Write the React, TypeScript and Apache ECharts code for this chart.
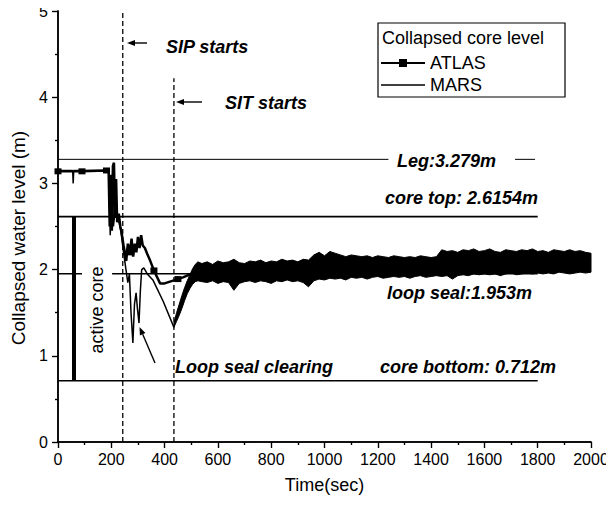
import React, { useEffect, useRef } from "react";
import * as echarts from "echarts";

const FONT = "'Liberation Sans', Arial, Helvetica, sans-serif";

// Axis ranges
const timeMin = 0;
const timeMax = 2000;
const timeStep = 200;
const levelMin = 0;
const levelMax = 5;
const levelStep = 1;

// ATLAS collapsed core level (s, m)
const atlasTime = [
  0, 90, 182, 190, 194, 198, 202, 206, 210, 214, 218, 222, 228, 234, 240, 246, 252, 256,
  262, 270, 276, 282, 288, 294, 300, 306, 312, 318, 326, 335, 345, 360, 383, 400, 420,
  450, 469, 507, 540, 630, 720, 810, 900, 990, 1080, 1170, 1260, 1350, 1440, 1530, 1620,
  1710, 1800, 1890, 1980, 2000,
];
const atlasLevel = [
  3.14, 3.14, 3.15, 3.14, 2.5, 3.1, 2.45, 3.2, 3.24, 2.6, 3.05, 2.55, 2.65, 2.5, 2.4, 2.28, 2.18, 2.1,
  2.3, 2.2, 2.36, 2.15, 2.3, 2.2, 2.38, 2.25, 2.4, 2.28, 2.25, 2.18, 2.11, 1.99, 1.84, 1.84, 1.86,
  1.89, 1.91, 1.96, 1.97, 1.96, 1.99, 2.0, 1.99, 2.04, 2.02, 2.03, 2.04, 2.03, 2.06, 2.08, 2.09,
  2.09, 2.1, 2.09, 2.1, 2.09,
];
// Points of the ATLAS curve that carry a square marker
const atlasMarkerTimes = [
  0, 90, 182, 270, 360, 450, 540, 630, 720, 810, 900, 990, 1080, 1170, 1260, 1350, 1440,
  1530, 1620, 1710, 1800, 1890, 1980,
];

// MARS collapsed core level, early transient (s, m)
const marsTime = [
  0, 55, 57, 59, 190, 196, 203, 208, 215, 225, 236, 246, 255, 262, 268, 274, 281, 287, 293,
  298, 304, 309, 314, 322, 335, 356, 395, 435,
];
const marsLevel = [
  3.15, 3.15, 3.0, 3.15, 3.15, 2.4, 3.05, 2.5, 2.7, 2.6, 2.45, 2.2, 2.0, 1.85, 1.95, 1.5, 1.15, 1.6, 1.73,
  1.55, 1.38, 1.75, 2.0, 2.02, 1.95, 1.88, 1.63, 1.33,
];

// MARS oscillating range after SIT injection: lower / upper envelope (s, m)
const marsBandTime = [
  435, 445, 455, 465, 475, 485, 495, 505, 515, 525, 540, 560, 580, 600, 620, 640, 660, 680, 700,
  720, 740, 760, 780, 800, 820, 840, 860, 880, 900, 920, 940, 960, 980, 1000, 1020, 1040, 1060,
  1080, 1100, 1120, 1140, 1160, 1180, 1200, 1220, 1240, 1260, 1280, 1300, 1320, 1340, 1360, 1380,
  1400, 1420, 1440, 1460, 1480, 1500, 1520, 1540, 1560, 1580, 1600, 1620, 1640, 1660, 1680, 1700,
  1720, 1740, 1760, 1780, 1800, 1820, 1840, 1860, 1880, 1900, 1920, 1940, 1960, 1980, 2000,
];
const marsBandLow = [
  1.33, 1.4, 1.47, 1.55, 1.64, 1.72, 1.78, 1.83, 1.86, 1.87, 1.86, 1.85, 1.87, 1.84, 1.86, 1.85, 1.76, 1.84, 1.86,
  1.87, 1.85, 1.87, 1.86, 1.84, 1.87, 1.86, 1.88, 1.86, 1.87, 1.85, 1.8, 1.87, 1.89, 1.88, 1.9, 1.89, 1.9,
  1.88, 1.91, 1.9, 1.91, 1.89, 1.91, 1.92, 1.9, 1.91, 1.92, 1.91, 1.92, 1.9, 1.92, 1.93, 1.91,
  1.92, 1.93, 1.92, 1.93, 1.89, 1.93, 1.94, 1.93, 1.95, 1.94, 1.95, 1.94, 1.95, 1.93, 1.95, 1.96,
  1.94, 1.95, 1.96, 1.95, 1.96, 1.95, 1.96, 1.95, 1.97, 1.96, 1.95, 1.96, 1.97, 1.96, 1.97,
];
const marsBandHigh = [
  1.38, 1.5, 1.6, 1.7, 1.79, 1.87, 1.94, 2.01, 2.06, 2.09, 2.07, 2.09, 2.06, 2.1, 2.08, 2.09, 2.12, 2.08, 2.07,
  2.1, 2.09, 2.11, 2.08, 2.1, 2.09, 2.12, 2.1, 2.11, 2.09, 2.12, 2.11, 2.17, 2.2, 2.16, 2.21, 2.19, 2.17,
  2.15, 2.17, 2.16, 2.15, 2.16, 2.14, 2.16, 2.15, 2.14, 2.16, 2.15, 2.14, 2.15, 2.14, 2.16, 2.15,
  2.14, 2.15, 2.23, 2.21, 2.22, 2.2, 2.23, 2.22, 2.24, 2.21, 2.22, 2.24, 2.21, 2.2, 2.23, 2.22,
  2.21, 2.23, 2.22, 2.24, 2.21, 2.22, 2.2, 2.23, 2.22, 2.21, 2.23, 2.21, 2.22, 2.2, 2.19,
];

// Reference elevations (m) and the time spans (s) over which each is drawn
const legLevel = 3.279;
const legSpans = [[0, 1240], [1715, 1790]];
const coreTopLevel = 2.6154;
const coreTopSpans = [[0, 1800]];
const loopSealLevel = 1.953;
const loopSealSpans = [[0, 90], [203, 1800]];
const coreBottomLevel = 0.712;
const coreBottomSpans = [[0, 1800]];

// Event times (s)
const sipTime = 243;
const sitTime = 435;
const sitLineTop = 4.22;
// Active core height bracket
const activeCoreTime = 60;

export default function App() {
  const ref = useRef<HTMLDivElement>(null);

  useEffect(() => {
    if (!ref.current) return;
    const chart = echarts.init(ref.current, null, { renderer: "svg" });

    const atlasData = atlasTime.map((t, i) => ({
      value: [t, atlasLevel[i]],
      symbol: atlasMarkerTimes.includes(t) ? "rect" : "none",
    }));
    const marsData = marsTime.map((t, i) => [t, marsLevel[i]]);
    const bandData = marsBandTime.map((t, i) => [t, marsBandLow[i], marsBandHigh[i]]);

    const hLines = (name: string, level: number, spans: number[][], width: number) =>
      spans.map((s, i) => ({
        name: `${name}-${i}`,
        type: "line",
        data: [
          [s[0], level],
          [s[1], level],
        ],
        symbol: "none",
        silent: true,
        lineStyle: { color: "#000", width },
      }));

    const vLine = (name: string, t: number, top: number, width: number, dashed: boolean) => ({
      name,
      type: "line",
      data: [
        [t, levelMin],
        [t, top],
      ],
      symbol: "none",
      silent: true,
      lineStyle: { color: "#000", width, type: dashed ? [5, 3] : "solid" },
    });

    const txt = (
      text: string,
      x: number,
      y: number,
      align: string = "left",
      italicBold = true,
      rotation = 0,
      size = 18
    ) => ({
      type: "text",
      x,
      y,
      rotation,
      z: 100,
      style: {
        text,
        fill: "#000",
        fontFamily: FONT,
        fontSize: size,
        fontWeight: italicBold ? "bold" : "normal",
        fontStyle: italicBold ? "italic" : "normal",
        align,
        verticalAlign: "middle",
      },
    });

    const axisCommon = {
      axisLine: { show: true, lineStyle: { color: "#000", width: 1.5 } },
      splitLine: { show: false },
    };
    const tickStyle = { color: "#000", width: 1.2 };

    chart.setOption({
      animation: false,
      backgroundColor: "#fff",
      textStyle: { fontFamily: FONT, color: "#000" },
      grid: { left: 58, right: 23, top: 11, bottom: 64 },
      legend: {
        data: [
          "ATLAS",
          { name: "MARS", icon: "path://M0,0H44V1.3H0Z", itemStyle: { color: "#000" } },
        ],
        orient: "vertical",
        left: 380,
        top: 54,
        itemWidth: 44,
        itemHeight: 10,
        itemGap: 4,
        padding: 0,
        selectedMode: false,
        textStyle: { fontSize: 18, color: "#000", fontFamily: FONT },
      },
      xAxis: [
        {
          type: "value",
          min: timeMin,
          max: timeMax,
          interval: timeStep,
          position: "bottom",
          ...axisCommon,
          axisTick: { show: true, inside: false, length: 6, lineStyle: tickStyle },
          minorTick: { show: true, splitNumber: 2, length: 3, lineStyle: tickStyle },
          axisLabel: {
            fontSize: 16,
            color: "#000",
            margin: 9,
            fontFamily: FONT,
            formatter: (v: number) => String(v),
          },
          name: "Time(sec)",
          nameLocation: "middle",
          nameGap: 34,
          nameTextStyle: { fontSize: 18, color: "#000", fontFamily: FONT },
        },
        {
          type: "value",
          min: timeMin,
          max: timeMax,
          interval: timeStep,
          position: "top",
          ...axisCommon,
          axisTick: { show: true, inside: true, length: 6, lineStyle: tickStyle },
          minorTick: { show: true, splitNumber: 2, length: 3, lineStyle: tickStyle },
          axisLabel: { show: false },
        },
      ],
      yAxis: [
        {
          type: "value",
          min: levelMin,
          max: levelMax,
          interval: levelStep,
          position: "left",
          ...axisCommon,
          axisTick: { show: true, inside: false, length: 6, lineStyle: tickStyle },
          minorTick: { show: true, splitNumber: 2, length: 3, lineStyle: tickStyle },
          axisLabel: { fontSize: 16, color: "#000", margin: 10, fontFamily: FONT },
        },
        {
          type: "value",
          min: levelMin,
          max: levelMax,
          interval: levelStep,
          position: "right",
          ...axisCommon,
          axisTick: { show: true, inside: true, length: 6, lineStyle: tickStyle },
          minorTick: { show: true, splitNumber: 2, length: 3, lineStyle: tickStyle },
          axisLabel: { show: false },
        },
      ],
      series: [
        ...hLines("leg", legLevel, legSpans, 1),
        ...hLines("coreTop", coreTopLevel, coreTopSpans, 1.8),
        ...hLines("loopSeal", loopSealLevel, loopSealSpans, 1.5),
        ...hLines("coreBottom", coreBottomLevel, coreBottomSpans, 1.5),
        vLine("sip", sipTime, levelMax, 1.3, true),
        vLine("sit", sitTime, sitLineTop, 1.3, true),
        {
          name: "activeCore",
          type: "line",
          data: [
            [activeCoreTime, coreBottomLevel],
            [activeCoreTime, coreTopLevel],
          ],
          symbol: "none",
          silent: true,
          lineStyle: { color: "#000", width: 4 },
        },
        {
          // oscillation range of MARS, filled between its envelopes
          name: "MARS-range",
          type: "custom",
          data: bandData,
          encode: { x: 0, y: [1, 2] },
          silent: true,
          renderItem: (params: any, api: any) => {
            if (params.dataIndex !== 0) return null;
            const upper = bandData.map((d) => api.coord([d[0], d[2]]));
            const lower = bandData.map((d) => api.coord([d[0], d[1]])).reverse();
            return {
              type: "polygon",
              shape: { points: upper.concat(lower) },
              style: { fill: "#000", stroke: "#000", lineWidth: 1 },
            };
          },
        },
        {
          name: "MARS",
          type: "line",
          data: marsData,
          symbol: "none",
          lineStyle: { color: "#000", width: 1.5 },
          itemStyle: { color: "#000" },
        },
        {
          name: "ATLAS",
          type: "line",
          data: atlasData,
          symbol: "rect",
          symbolSize: [7, 6],
          showSymbol: true,
          showAllSymbol: true,
          lineStyle: { color: "#000", width: 2.5 },
          itemStyle: { color: "#000" },
        },
      ],
      graphic: [
        {
          type: "rect",
          z: 100,
          shape: { x: 378, y: 23, width: 187, height: 74 },
          style: { fill: "none", stroke: "#000", lineWidth: 1.2 },
        },
        txt("Collapsed core level", 382, 38, "left", false),
        txt("Collapsed water level (m)", 18, 238, "center", false, Math.PI / 2, 19),
        txt("active core", 97, 310, "center", false, Math.PI / 2),
        txt("SIP starts", 166, 47),
        txt("SIT starts", 225, 103),
        txt("Leg:3.279m", 397, 161),
        txt("core top: 2.6154m", 538, 198, "right"),
        txt("loop seal:1.953m", 387, 293),
        txt("core bottom: 0.712m", 380, 367),
        txt("Loop seal clearing", 175, 367),
        // SIP arrow
        { type: "line", z: 100, shape: { x1: 147, y1: 43, x2: 132, y2: 43 }, style: { stroke: "#000", lineWidth: 1.4 } },
        { type: "polygon", z: 100, shape: { points: [[127, 43], [135, 40], [135, 46]] }, style: { fill: "#000" } },
        // SIT arrow
        { type: "line", z: 100, shape: { x1: 202, y1: 102, x2: 181, y2: 102 }, style: { stroke: "#000", lineWidth: 1.4 } },
        { type: "polygon", z: 100, shape: { points: [[176, 102], [184, 99], [184, 105]] }, style: { fill: "#000" } },
        // loop seal clearing arrow
        { type: "line", z: 100, shape: { x1: 155, y1: 363, x2: 142.7, y2: 334.3 }, style: { stroke: "#000", lineWidth: 1.4 } },
        {
          type: "polygon",
          z: 100,
          shape: { points: [[139.5, 327], [145.4, 333.1], [139.9, 335.5]] },
          style: { fill: "#000" },
        },
      ],
    });

    return () => chart.dispose();
  }, []);

  return <div ref={ref} style={{ width: 614, height: 506, margin: -8 }} />;
}
